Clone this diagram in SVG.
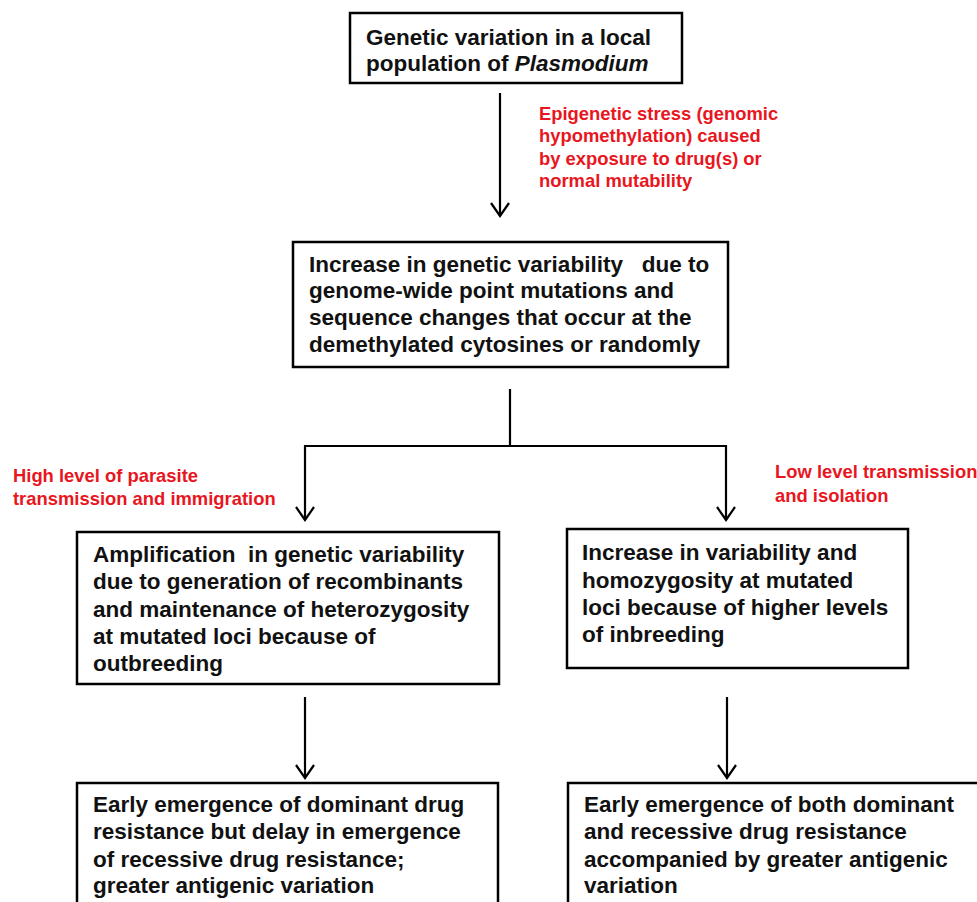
<svg xmlns="http://www.w3.org/2000/svg" width="977" height="902" viewBox="0 0 977 902">
<defs>
<style>
.box{fill:#fff;stroke:#000;stroke-width:2.5}
.t{font-family:"Liberation Sans",Arial,sans-serif;font-weight:bold;font-size:22.5px;fill:#111}
.r{font-family:"Liberation Sans",Arial,sans-serif;font-weight:bold;font-size:18.4px;fill:#e8161e}
.c{fill:none;stroke:#000;stroke-width:2.2}
</style>
<marker id="ah" viewBox="0 0 16 20" refX="14" refY="10" markerWidth="16" markerHeight="20" markerUnits="userSpaceOnUse" orient="auto">
<path d="M1,1 L14,10 L1,19" fill="none" stroke="#000" stroke-width="2.2"/>
</marker>
</defs>
<rect width="977" height="902" fill="#fff"/>
<g id="connectors">
<line class="c" x1="500" y1="93" x2="500" y2="216" marker-end="url(#ah)"/>
<polyline class="c" points="510,389 510,446"/>
<polyline class="c" points="305,446 726,446"/>
<line class="c" x1="305" y1="445" x2="305" y2="520" marker-end="url(#ah)"/>
<line class="c" x1="726" y1="445" x2="726" y2="520" marker-end="url(#ah)"/>
<line class="c" x1="305" y1="697" x2="305" y2="778" marker-end="url(#ah)"/>
<line class="c" x1="727" y1="697" x2="727" y2="778" marker-end="url(#ah)"/>
</g>
<g id="label-epigenetic">
<text class="r" x="539" y="120">Epigenetic stress (genomic</text>
<text class="r" x="539" y="142">hypomethylation) caused</text>
<text class="r" x="539" y="165">by exposure to drug(s) or</text>
<text class="r" x="539" y="187">normal mutability</text>
</g>
<g id="label-high">
<text class="r" x="13" y="482">High level of parasite</text>
<text class="r" x="13" y="505">transmission and immigration</text>
</g>
<g id="label-low">
<text class="r" x="775" y="478">Low level transmission</text>
<text class="r" x="775" y="502">and isolation</text>
</g>
<g id="node-genetic-variation">
<rect class="box" x="350" y="13" width="332" height="70"/>
<text class="t" x="366" y="45">Genetic variation in a local</text>
<text class="t" x="366" y="71">population of <tspan font-style="italic">Plasmodium</tspan></text>
</g>
<g id="node-increase-variability">
<rect class="box" x="293" y="242" width="435" height="125"/>
<text class="t" x="309" y="272">Increase in genetic variability &#160;&#160;due to</text>
<text class="t" x="309" y="298">genome-wide point mutations and</text>
<text class="t" x="309" y="325">sequence changes that occur at the</text>
<text class="t" x="309" y="352">demethylated cytosines or randomly</text>
</g>
<g id="node-amplification">
<rect class="box" x="77" y="532" width="422" height="152"/>
<text class="t" x="93" y="562">Amplification &#160;in genetic variability</text>
<text class="t" x="93" y="589">due to generation of recombinants</text>
<text class="t" x="93" y="617">and maintenance of heterozygosity</text>
<text class="t" x="93" y="644">at mutated loci because of</text>
<text class="t" x="93" y="671">outbreeding</text>
</g>
<g id="node-homozygosity">
<rect class="box" x="567" y="529" width="341" height="139"/>
<text class="t" x="582" y="560">Increase in variability and</text>
<text class="t" x="582" y="588">homozygosity at mutated</text>
<text class="t" x="582" y="615">loci because of higher levels</text>
<text class="t" x="582" y="642">of inbreeding</text>
</g>
<g id="node-dominant-early">
<rect class="box" x="77" y="783" width="421" height="140"/>
<text class="t" x="93" y="812">Early emergence of dominant drug</text>
<text class="t" x="93" y="839">resistance but delay in emergence</text>
<text class="t" x="93" y="867">of recessive drug resistance;</text>
<text class="t" x="93" y="893">greater antigenic variation</text>
</g>
<g id="node-both-early">
<rect class="box" x="568" y="783" width="430" height="140"/>
<text class="t" x="584" y="812">Early emergence of both dominant</text>
<text class="t" x="584" y="839">and recessive drug resistance</text>
<text class="t" x="584" y="867">accompanied by greater antigenic</text>
<text class="t" x="584" y="893">variation</text>
</g>
</svg>
